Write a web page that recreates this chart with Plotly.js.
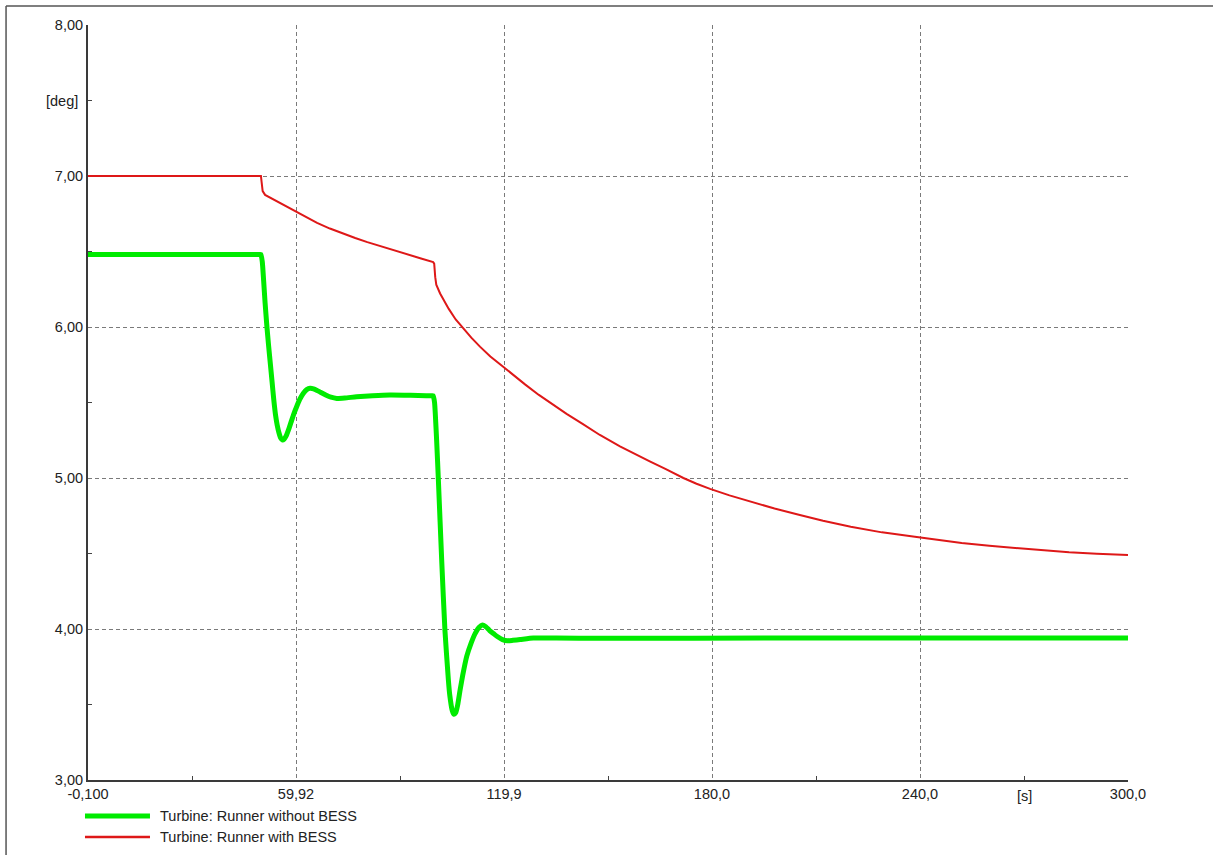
<!DOCTYPE html>
<html>
<head>
<meta charset="utf-8">
<script src="https://cdn.plot.ly/plotly-3.0.1.min.js"></script>
<style>html,body{margin:0;padding:0;background:#fff;}#chart{width:1213px;height:855px;}</style>
</head>
<body>
<div id="chart"></div>
<script>
// ---- data ----
const seriesNames = ["Turbine: Runner without BESS", "Turbine: Runner with BESS"];

const tWithout = [-0.1, 25.0, 45.0, 48.5, 49.3, 49.8, 50.2, 50.6, 51.0, 51.5, 52.0, 52.5, 53.0, 53.5, 54.0, 54.5, 55.0, 55.5, 56.0, 56.5, 57.0, 57.7, 58.5, 59.3, 60.1, 61.0, 62.0, 63.0, 64.0, 65.0, 66.0, 67.0, 68.5, 70.0, 71.7, 74.0, 77.4, 82.0, 87.0, 93.0, 97.5, 99.0, 99.5, 99.9, 100.5, 101.0, 102.0, 102.9, 103.9, 104.3, 105.0, 105.5, 106.0, 106.6, 107.3, 108.0, 109.2, 110.5, 111.6, 112.7, 113.7, 114.7, 115.8, 116.9, 118.0, 119.5, 121.0, 122.5, 124.6, 128.4, 135.0, 147.6, 200.0, 250.0, 290.0, 300.0];
const vWithout = [6.48, 6.48, 6.48, 6.48, 6.48, 6.48, 6.43, 6.30, 6.16, 6.01, 5.88, 5.76, 5.64, 5.52, 5.42, 5.35, 5.30, 5.265, 5.252, 5.258, 5.275, 5.315, 5.37, 5.425, 5.472, 5.52, 5.56, 5.585, 5.594, 5.59, 5.58, 5.568, 5.55, 5.535, 5.527, 5.53, 5.538, 5.545, 5.55, 5.548, 5.545, 5.545, 5.545, 5.50, 5.25, 4.99, 4.435, 3.99, 3.66, 3.56, 3.46, 3.435, 3.445, 3.50, 3.60, 3.69, 3.82, 3.91, 3.97, 4.01, 4.026, 4.015, 3.99, 3.97, 3.95, 3.93, 3.922, 3.925, 3.93, 3.94, 3.94, 3.938, 3.94, 3.94, 3.94, 3.94];

const tWith = [-0.1, 49.8, 50.0, 50.3, 51.0, 53.0, 56.0, 59.9, 63.0, 66.0, 69.7, 73.0, 77.0, 80.5, 84.2, 88.0, 92.0, 96.0, 99.5, 99.8, 100.1, 100.4, 101.5, 102.7, 104.0, 106.0, 108.2, 110.5, 113.0, 116.0, 119.7, 123.0, 126.0, 130.0, 134.2, 138.0, 142.5, 147.6, 153.4, 158.0, 162.0, 166.5, 171.7, 175.5, 179.4, 185.0, 192.0, 198.0, 205.3, 212.0, 220.0, 229.0, 238.5, 245.0, 252.0, 260.0, 267.9, 275.0, 283.0, 291.0, 300.0];
const vWith = [7.00, 7.00, 6.96, 6.90, 6.875, 6.85, 6.81, 6.76, 6.722, 6.689, 6.652, 6.622, 6.589, 6.562, 6.535, 6.508, 6.48, 6.454, 6.43, 6.42, 6.33, 6.28, 6.222, 6.17, 6.12, 6.05, 5.991, 5.93, 5.87, 5.805, 5.737, 5.675, 5.62, 5.55, 5.483, 5.425, 5.36, 5.285, 5.21, 5.155, 5.11, 5.06, 5.00, 4.962, 4.928, 4.885, 4.838, 4.798, 4.755, 4.717, 4.677, 4.64, 4.611, 4.59, 4.57, 4.551, 4.535, 4.521, 4.508, 4.498, 4.49];

const xTickVals = [-0.1, 59.92, 119.94, 179.96, 239.98, 300.0];
const xTickText = ["-0,100", "59,92", "119,9", "180,0", "240,0", "300,0"];
const xMinorVals = [29.91, 89.93, 149.95, 209.97, 269.99];
const yTickVals = [3, 4, 5, 6, 7, 8];
const yTickText = ["3,00", "4,00", "5,00", "6,00", "7,00", "8,00"];
const yMinorVals = [3.5, 4.5, 5.5, 6.5, 7.5];
const yUnit = "[deg]";
const xUnit = "[s]";

const colors = ["rgb(0,235,0)", "rgb(222,24,24)"];
const widths = [5, 2];

const font = {family: "Liberation Sans, Arial, sans-serif", size: 14.5, color: "#222"};

const traces = [
  {x: tWithout, y: vWithout, name: seriesNames[0], type: "scatter", mode: "lines",
   line: {color: colors[0], width: widths[0], shape: "spline", smoothing: 0.5}},
  {x: tWith, y: vWith, name: seriesNames[1], type: "scatter", mode: "lines",
   line: {color: colors[1], width: widths[1]}}
];

const shapes = [
  // outer frame (top and left)
  {type: "line", xref: "paper", yref: "paper", x0: -0.0788, x1: 1.09, y0: 1.0252, y1: 1.0252, line: {color: "#555", width: 1.5}},
  {type: "line", xref: "paper", yref: "paper", x0: -0.0788, x1: -0.0788, y0: 1.0252, y1: -0.11, line: {color: "#555", width: 1.5}}
];
const annotations = [
  {xref: "paper", yref: "y", x: 0, y: 7.5, text: yUnit, showarrow: false, xanchor: "right", xshift: -8, font: font},
  {xref: "x", yref: "paper", x: xMinorVals[4], y: 0, text: xUnit, showarrow: false, yanchor: "top", yshift: -6, font: font}
];
// custom legend
const legY = [-0.0477, -0.0755];
seriesNames.forEach((n, i) => {
  shapes.push({type: "line", xref: "paper", yref: "paper", x0: -0.0029, x1: 0.0596, y0: legY[i], y1: legY[i],
               line: {color: colors[i], width: widths[i] === 5 ? 5 : 2.5}});
  annotations.push({xref: "paper", yref: "paper", x: 0.0673, y: legY[i], text: n, showarrow: false,
                    xanchor: "left", yanchor: "middle", font: font});
});

const layout = {
  width: 1213, height: 855,
  margin: {l: 88, r: 85, t: 25, b: 75},
  paper_bgcolor: "#fff", plot_bgcolor: "#fff",
  showlegend: false,
  font: font,
  xaxis: {
    range: [-0.1, 300], tickmode: "array", tickvals: xTickVals, ticktext: xTickText,
    ticks: "", showgrid: true, gridcolor: "#7a7a7a", griddash: "4px,3px", gridwidth: 1,
    showline: true, linecolor: "#3a3a3a", linewidth: 2, zeroline: false,
    minor: {tickvals: xMinorVals, ticks: "inside", ticklen: 4, tickcolor: "#444", tickwidth: 1, showgrid: false},
    tickfont: font, fixedrange: true
  },
  yaxis: {
    range: [3, 8], tickmode: "array", tickvals: yTickVals, ticktext: yTickText,
    ticks: "", showgrid: true, gridcolor: "#7a7a7a", griddash: "4px,3px", gridwidth: 1,
    showline: true, linecolor: "#3a3a3a", linewidth: 2, zeroline: false,
    minor: {tickvals: yMinorVals, ticks: "inside", ticklen: 4, tickcolor: "#444", tickwidth: 1, showgrid: false},
    tickfont: font, fixedrange: true
  },
  shapes: shapes,
  annotations: annotations
};

Plotly.newPlot("chart", traces, layout, {displayModeBar: false, staticPlot: true});
</script>
</body>
</html>
